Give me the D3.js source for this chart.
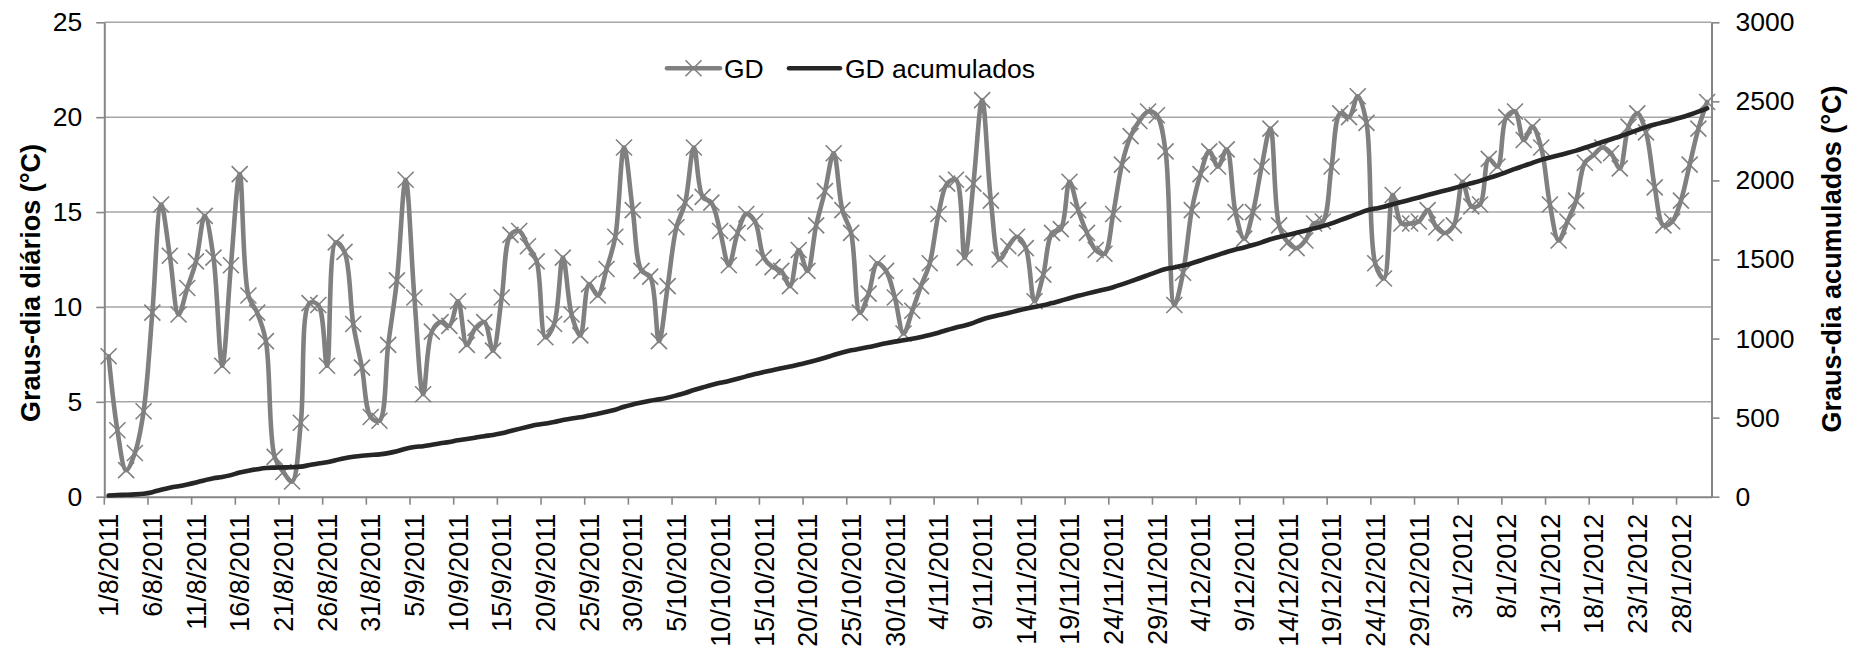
<!DOCTYPE html>
<html>
<head>
<meta charset="utf-8">
<script src="https://cdn.jsdelivr.net/npm/d3@7"></script>
<style>
  html, body { margin: 0; padding: 0; background: #ffffff; }
  svg { display: block; font-family: "Liberation Sans", Arial, sans-serif; }
</style>
</head>
<body>
<svg id="chart" width="1863" height="650"></svg>
<script>
// Daily degree-days (GD), 1 Aug 2011 – 31 Jan 2012
const firstDay = new Date(2011, 7, 1);
const dayAfterLast = new Date(2012, 1, 1);

const gdDaily = [
  7.4, 3.5, 1.4, 2.3, 4.5, 9.7, 15.4, 12.7, 9.6, 11.0,
  12.4, 14.8, 12.6, 6.9, 12.2, 17.0, 10.6, 9.7, 8.2, 2.1,
  1.3, 0.8, 3.9, 10.2, 10.1, 6.9, 13.4, 12.9, 9.1, 6.8,
  4.2, 4.0, 8.0, 11.4, 16.7, 10.5, 5.4, 8.7, 9.2, 9.0,
  10.3, 8.0, 8.9, 9.2, 7.7, 10.5, 13.8, 14.0, 13.2, 12.4,
  8.4, 9.1, 12.6, 9.6, 8.5, 11.2, 10.6, 12.0, 13.7, 18.4,
  15.1, 11.9, 11.6, 8.2, 11.1, 14.2, 15.5, 18.4, 15.8, 15.5,
  14.0, 12.2, 13.9, 14.9, 14.5, 12.6, 12.1, 11.9, 11.1, 13.0,
  11.9, 14.3, 16.1, 18.1, 15.1, 13.9, 9.7, 10.7, 12.3, 11.9,
  10.5, 8.6, 9.8, 11.1, 12.3, 14.9, 16.5, 16.7, 12.6, 16.5,
  20.9, 15.6, 12.5, 13.2, 13.7, 13.1, 10.3, 11.7, 13.9, 14.1,
  16.6, 15.1, 13.9, 13.0, 12.8, 14.9, 17.5, 19.0, 19.8, 20.3,
  20.1, 18.2, 10.1, 11.8, 15.1, 17.0, 18.2, 17.4, 18.3, 15.0,
  13.6, 15.0, 17.4, 19.4, 14.3, 13.4, 13.1, 13.5, 14.4, 14.5,
  17.4, 20.2, 20.0, 21.1, 19.7, 12.3, 11.5, 15.9, 14.4, 14.4,
  14.5, 15.1, 14.2, 13.9, 14.3, 16.6, 15.3, 15.4, 17.8, 17.4,
  20.0, 20.3, 18.8, 19.5, 18.4, 15.4, 13.5, 14.5, 15.6, 17.6,
  18.0, 18.4, 18.1, 17.3, 19.5, 20.2, 19.2, 16.3, 14.3, 14.5,
  15.6, 17.5, 19.4, 20.8
];

const leftTicks = [0, 5, 10, 15, 20, 25];
const rightTicks = [0, 500, 1000, 1500, 2000, 2500, 3000];
const dateLabelStep = 5;
const seriesNames = ["GD", "GD acumulados"];
const leftTitle = "Graus-dia diários (°C)";
const rightTitle = "Graus-dia acumulados (°C)";

// accumulated degree-days: running total of the daily values
const gdAccum = Array.from(d3.cumsum(gdDaily));

const fmtDate = d3.timeFormat("%-d/%-m/%Y");
const categories = d3.timeDay.range(firstDay, dayAfterLast).map(fmtDate);
const dateTicks = categories.filter((c, i) => i % dateLabelStep === 0);

// layout
const plot = { left: 104.3, right: 1711.5, top: 22.3, bottom: 496.7 };
const colGD = "#808080";
const colAcc = "#262626";
const colAxis = "#868686";
const colGrid = "#a6a6a6";

const svg = d3.select("#chart");

const x = d3.scaleBand().domain(categories).range([plot.left, plot.right]).padding(0);
const bw = x.bandwidth();
const cx = c => x(c) + bw / 2;
const yL = d3.scaleLinear().domain([0, 25]).range([plot.bottom, plot.top]);
const yR = d3.scaleLinear().domain([0, 3000]).range([plot.bottom, plot.top]);

// horizontal gridlines
svg.append("g").selectAll("line").data(leftTicks.filter(t => t > 0)).join("line")
  .attr("x1", plot.left).attr("x2", plot.right)
  .attr("y1", d => yL(d)).attr("y2", d => yL(d))
  .attr("stroke", colGrid).attr("stroke-width", 1.6);

// left axis
const gL = svg.append("g").attr("transform", `translate(${plot.left},0)`)
  .call(d3.axisLeft(yL).tickValues(leftTicks).tickFormat(d3.format("d"))
    .tickSizeInner(8).tickSizeOuter(0).tickPadding(14));
// right axis
const gR = svg.append("g").attr("transform", `translate(${plot.right},0)`)
  .call(d3.axisRight(yR).tickValues(rightTicks).tickFormat(d3.format("d"))
    .tickSizeInner(8).tickSizeOuter(0).tickPadding(16));
// bottom axis (ticks on day boundaries, labels centred on the day)
const gB = svg.append("g").attr("transform", `translate(0,${plot.bottom})`)
  .call(d3.axisBottom(x).tickValues(dateTicks).tickSizeInner(8).tickSizeOuter(0));
gB.selectAll(".tick line").attr("x1", -bw / 2).attr("x2", -bw / 2);
gB.selectAll(".tick text")
  .attr("transform", "rotate(-90)")
  .attr("text-anchor", "end")
  .attr("x", -17).attr("y", 0).attr("dy", "0.36em")
  .style("font-size", "27px");

[gL, gR, gB].forEach(g => {
  g.select(".domain").attr("stroke", colAxis).attr("stroke-width", 2);
  g.selectAll(".tick line").attr("stroke", colAxis).attr("stroke-width", 1.6);
  g.selectAll(".tick text").attr("fill", "#000").attr("font-family", null);
});
gL.selectAll(".tick text").style("font-size", "26.5px");
gR.selectAll(".tick text").style("font-size", "26.5px");

// axis titles
svg.append("text")
  .attr("transform", `translate(30,283) rotate(-90)`)
  .attr("text-anchor", "middle").attr("dy", "0.36em")
  .style("font-size", "27px").style("font-weight", "bold")
  .text(leftTitle);
svg.append("text")
  .attr("transform", `translate(1831,259) rotate(-90)`)
  .attr("text-anchor", "middle").attr("dy", "0.36em")
  .style("font-size", "27px").style("font-weight", "bold")
  .text(rightTitle);

// daily GD line with X markers
const lineGD = d3.line()
  .x((d, i) => cx(categories[i]))
  .y(d => yL(d))
  .curve(d3.curveCatmullRom.alpha(0.5));
svg.append("path").datum(gdDaily)
  .attr("d", lineGD).attr("fill", "none")
  .attr("stroke", colGD).attr("stroke-width", 4.6)
  .attr("stroke-linejoin", "round").attr("stroke-linecap", "round");

const xMark = s => `M${-s},${-s}L${s},${s}M${-s},${s}L${s},${-s}`;
svg.append("g").selectAll("path").data(gdDaily).join("path")
  .attr("transform", (d, i) => `translate(${cx(categories[i])},${yL(d)})`)
  .attr("d", xMark(8))
  .attr("fill", "none").attr("stroke", colGD).attr("stroke-width", 1.6);

// accumulated GD line (right axis)
const lineAcc = d3.line()
  .x((d, i) => cx(categories[i]))
  .y(d => yR(d))
  .curve(d3.curveCatmullRom.alpha(0.5));
svg.append("path").datum(gdAccum)
  .attr("d", lineAcc).attr("fill", "none")
  .attr("stroke", colAcc).attr("stroke-width", 4.6)
  .attr("stroke-linejoin", "round").attr("stroke-linecap", "round");

// legend
const legend = svg.append("g").style("font-size", "26.5px");
const legY = 68.3;
legend.append("line").attr("x1", 667).attr("x2", 720).attr("y1", legY).attr("y2", legY)
  .attr("stroke", colGD).attr("stroke-width", 4.6).attr("stroke-linecap", "round");
legend.append("path").attr("transform", `translate(693.5,${legY})`).attr("d", xMark(8))
  .attr("fill", "none").attr("stroke", colGD).attr("stroke-width", 1.6);
legend.append("text").attr("x", 724).attr("y", legY).attr("dy", "0.36em").text(seriesNames[0]);
legend.append("line").attr("x1", 789).attr("x2", 840).attr("y1", legY).attr("y2", legY)
  .attr("stroke", colAcc).attr("stroke-width", 4.6).attr("stroke-linecap", "round");
legend.append("text").attr("x", 845).attr("y", legY).attr("dy", "0.36em").text(seriesNames[1]);
</script>
</body>
</html>
